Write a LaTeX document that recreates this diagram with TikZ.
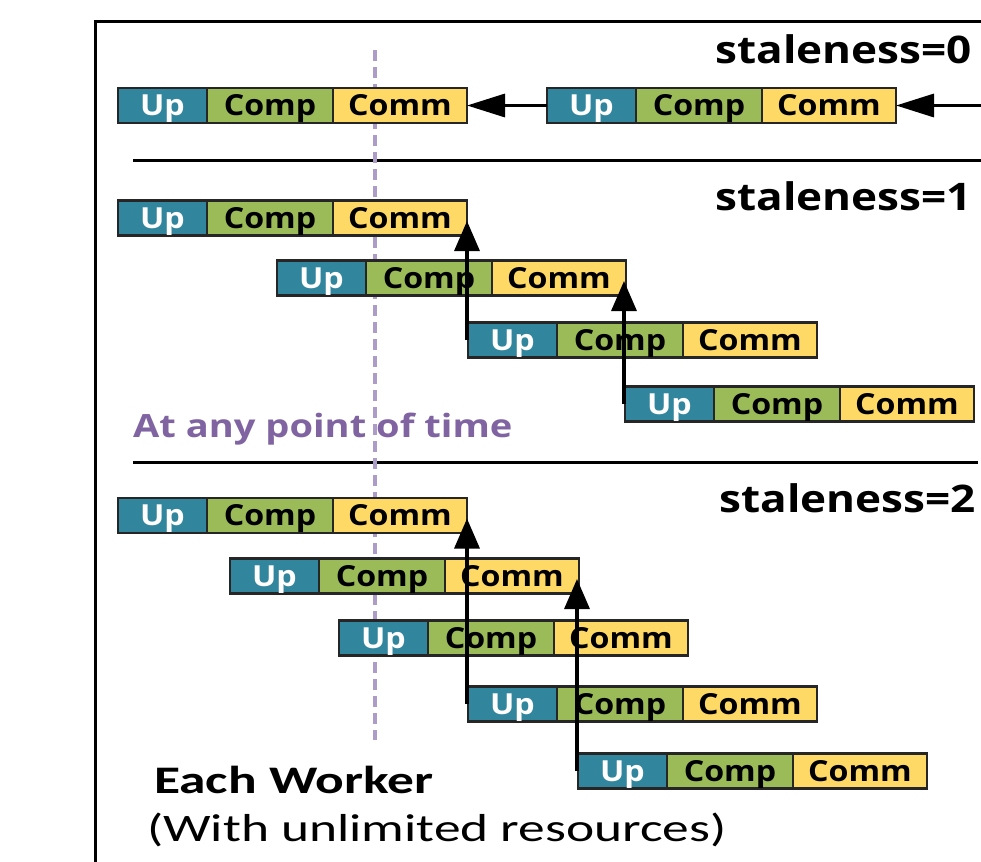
\documentclass[tikz,border=0pt]{standalone}
\usepackage{fontspec}
\usetikzlibrary{arrows.meta}
\newfontfamily\osb[FakeStretch=1.11]{Open Sans}
\newfontfamily\osbw[FakeStretch=1.16]{Open Sans}
\newfontfamily\osbp[FakeStretch=1.19]{Open Sans}
\newfontfamily\carl[FakeStretch=1.37]{Carlito}
\definecolor{upc}{HTML}{31859C}
\definecolor{cpc}{HTML}{9BBB59}
\definecolor{cmc}{HTML}{FFD966}
\definecolor{purp}{HTML}{8064A2}
\definecolor{dashc}{HTML}{AE9CC8}
\newcommand\boxlab{\osb\bfseries\fontsize{29bp}{30bp}\selectfont}
\newcommand\stalab{\osbw\bfseries\fontsize{38bp}{40bp}\selectfont}
\newcommand\wbar[3]{%
  \node[upseg] (#1-u) at (#2,#3) {Up};
  \node[cpseg] (#1-cp) at (#1-u.east) {Comp};
  \node[cmseg] (#1-cm) at (#1-cp.east) {Comm};}
\tikzset{
  seg/.style={draw=black!85, line width=2.2bp, minimum height=35bp, inner sep=0pt, outer sep=0pt,
    text height=20bp, text depth=0bp, anchor=west, font=\boxlab},
  upseg/.style={seg, fill=upc, text=white, minimum width=89bp},
  cpseg/.style={seg, fill=cpc, minimum width=126bp},
  cmseg/.style={seg, fill=cmc, minimum width=134bp},
  harr/.style={line width=3.3bp, -{Triangle[length=38bp,width=23bp]}},
  varr/.style={line width=3.3bp, -{Triangle[length=30bp,width=25bp]}},
  stal/.style={anchor=base east, inner sep=0pt, font=\stalab},
}
\begin{document}
\begin{tikzpicture}[x=1bp,y=-1bp]
\useasboundingbox (0,0) rectangle (981,862);
% frame
\draw[line width=2.6bp] (981,21.5) -- (95.5,21.5) -- (95.5,862);
% separators
\draw[line width=3bp] (133,160) -- (981,160);
\draw[line width=3bp] (133,462) -- (978,462);
% dashed time line
\draw[dashc, line width=3.2bp, dash pattern=on 11bp off 6bp] (375,50) -- (375,740);
% staleness = 0
\wbar{ra}{118}{105.5}
\wbar{rb}{547}{105.5}
\coordinate (rin) at (981,105.5);
\draw[harr] (rb-u.west) -- (ra-cm.east);
\draw[harr] (rin) -- (rb-cm.east);
% staleness = 1
\wbar{sa}{118}{218}
\wbar{sb}{277}{278}
\wbar{sc}{468}{340}
\wbar{sd}{625}{404}
\draw[varr] ([xshift=-1bp]sc-u.west) -- ([xshift=-1bp,yshift=-3bp]sc-u.west |- sa-cm.east);
\draw[varr] ([xshift=-1bp]sd-u.west) -- ([xshift=-1bp,yshift=-3bp]sd-u.west |- sb-cm.east);
% staleness = 2
\wbar{ta}{118}{515.5}
\wbar{tb}{230}{576}
\wbar{tc}{339}{638}
\wbar{td}{468}{704}
\wbar{te}{578}{771}
\draw[varr] ([xshift=-1bp]td-u.west) -- ([xshift=-1bp,yshift=-3bp]td-u.west |- ta-cm.east);
\draw[varr] ([xshift=-1bp]te-u.west) -- ([xshift=-1bp,yshift=-3bp]te-u.west |- tb-cm.east);
% labels
\node[stal] (l0) at (972,63) {staleness=0};
\node[stal] (l1) at (972,210) {staleness=1};
\node[stal] (l2) at (976,512) {staleness=2};
\node[anchor=base west, inner sep=0pt, text=purp, font={\osbp\bfseries\fontsize{32bp}{34bp}\selectfont}] (apt) at (133,437) {At any point of time};
\node[anchor=base west, inner sep=0pt, font={\carl\bfseries\fontsize{39bp}{42bp}\selectfont}] (ew) at (154,793) {Each Worker};
\node[anchor=base west, inner sep=0pt, font={\carl\fontsize{39bp}{42bp}\selectfont}] (wu) at (147,841) {(With unlimited resources)};
\end{tikzpicture}
\end{document}
